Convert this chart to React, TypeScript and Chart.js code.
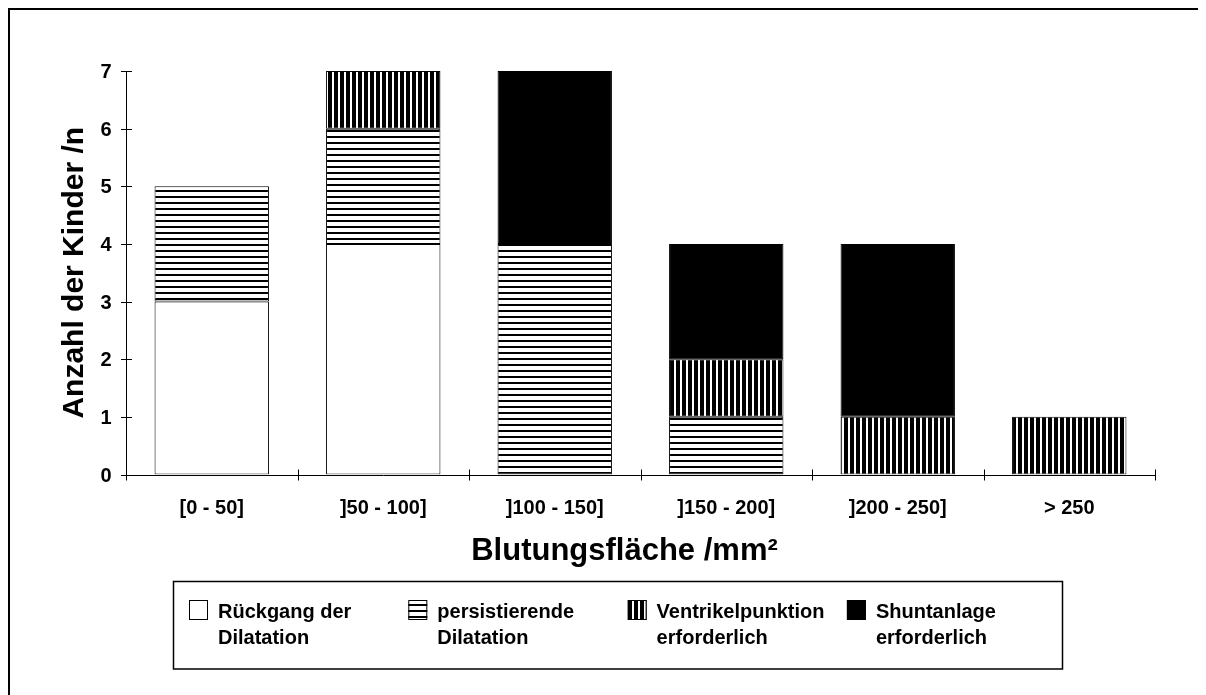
import React, { useEffect, useRef } from "react";
import { Chart, registerables } from "chart.js";

Chart.register(...registerables);

// ---- data ----
const categories = ["[0 - 50]", "]50 - 100]", "]100 - 150]", "]150 - 200]", "]200 - 250]", "> 250"];
const seriesNames = [
  ["Rückgang der", "Dilatation"],
  ["persistierende", "Dilatation"],
  ["Ventrikelpunktion", "erforderlich"],
  ["Shuntanlage", "erforderlich"],
];
const rueckgang = [3, 4, null, null, null, null];
const persistierend = [2, 2, 4, 1, null, null];
const ventrikel = [null, 1, null, 1, 1, 1];
const shunt = [null, null, 3, 2, 3, null];
const yTickValues = [0, 1, 2, 3, 4, 5, 6, 7];
const yTitle = "Anzahl der Kinder /n";
const xTitle = "Blutungsfläche /mm²";

const FONT = "'Liberation Sans', Arial, sans-serif";

function makePattern(kind: "h" | "v"): CanvasPattern | string {
  const c = document.createElement("canvas");
  c.width = 6;
  c.height = 6;
  const g = c.getContext("2d")!;
  if (kind === "h") {
    g.fillStyle = "#fff";
    g.fillRect(0, 0, 6, 6);
    g.fillStyle = "#000";
    g.fillRect(0, 0, 6, 2);
  } else {
    g.fillStyle = "#000";
    g.fillRect(0, 0, 6, 6);
    g.fillStyle = "#fff";
    g.fillRect(4, 0, 2, 6);
  }
  const p = g.createPattern(c, "repeat");
  return p || "#000";
}

export default function App() {
  const ref = useRef<HTMLCanvasElement | null>(null);

  useEffect(() => {
    const canvas = ref.current!;
    const hPat = makePattern("h");
    const vPat = makePattern("v");
    const fills: any[] = ["#ffffff", hPat, vPat, "#000000"];
    const values = [rueckgang, persistierend, ventrikel, shunt];

    const decor = {
      id: "decor",
      afterDraw(chart: any) {
        const ctx = chart.ctx as CanvasRenderingContext2D;
        const xs = chart.scales.x;
        const ys = chart.scales.y;
        const left = Math.round(xs.left) + 0.5;
        const right = xs.right;
        const top = ys.top;
        const bottom = Math.round(ys.bottom) + 0.5;
        ctx.save();
        ctx.strokeStyle = "#000";
        ctx.lineWidth = 1;
        // axes
        ctx.beginPath();
        ctx.moveTo(left, top);
        ctx.lineTo(left, bottom);
        ctx.moveTo(left, bottom);
        ctx.lineTo(right, bottom);
        ctx.stroke();
        // y ticks + labels
        ctx.fillStyle = "#000";
        ctx.font = `bold 20px ${FONT}`;
        ctx.textAlign = "right";
        ctx.textBaseline = "middle";
        for (const v of yTickValues) {
          const py = Math.round(ys.getPixelForValue(v)) + 0.5;
          ctx.beginPath();
          ctx.moveTo(left - 5.5, py);
          ctx.lineTo(left + 5.5, py);
          ctx.stroke();
          ctx.fillText(String(v), left - 15, py + 1);
        }
        // x ticks at category boundaries
        const n = categories.length;
        const w = (xs.right - xs.left) / n;
        for (let i = 0; i <= n; i++) {
          const px = Math.round(xs.left + i * w) + 0.5;
          ctx.beginPath();
          ctx.moveTo(px, bottom - 6);
          ctx.lineTo(px, bottom + 5);
          ctx.stroke();
        }
        ctx.textAlign = "center";
        categories.forEach((c, i) => {
          ctx.fillText(c, xs.getPixelForValue(i), bottom + 33);
        });
        // titles
        ctx.font = `bold 31px ${FONT}`;
        ctx.fillText(xTitle, (xs.left + xs.right) / 2 - 16, bottom + 76);
        ctx.font = `bold 30px ${FONT}`;
        ctx.save();
        ctx.translate(65, (ys.top + ys.bottom) / 2);
        ctx.rotate(-Math.PI / 2);
        ctx.fillText(yTitle, 0, 0);
        ctx.restore();

        // legend
        const bx = 163.5, by = 571.5, bw = 889, bh = 87.5;
        ctx.lineWidth = 1.5;
        ctx.strokeRect(bx, by, bw, bh);
        ctx.lineWidth = 1;
        ctx.font = `bold 20px ${FONT}`;
        ctx.textAlign = "left";
        ctx.textBaseline = "middle";
        seriesNames.forEach((lines, i) => {
          const sx = 179 + i * 219.3;
          const sy = 590;
          ctx.fillStyle = fills[i];
          ctx.fillRect(sx, sy, 19, 20);
          ctx.strokeStyle = "#000";
          ctx.strokeRect(sx + 0.5, sy + 0.5, 18, 19);
          ctx.fillStyle = "#000";
          lines.forEach((t, j) => ctx.fillText(t, sx + 29, 602 + j * 26));
        });
        ctx.restore();
      },
    };

    const chart = new Chart(canvas, {
      type: "bar",
      data: {
        labels: categories,
        datasets: values.map((d, i) => ({
          label: seriesNames[i].join(" "),
          data: d as any,
          backgroundColor: fills[i],
          borderColor: "#000",
          borderWidth: 1,
          borderSkipped: false,
          categoryPercentage: 1,
          barPercentage: 0.667,
        })),
      },
      options: {
        animation: false,
        responsive: false,
        maintainAspectRatio: false,
        layout: { padding: { left: 0, top: 61, right: 51, bottom: 220.5 } },
        plugins: { legend: { display: false }, tooltip: { enabled: false }, title: { display: false } },
        scales: {
          x: {
            stacked: true,
            grid: { display: false, drawTicks: false },
            border: { display: false },
            ticks: { display: false },
            afterFit: (s: any) => { s.height = 0; },
          },
          y: {
            stacked: true,
            min: 0,
            max: 7,
            grid: { display: false, drawTicks: false },
            border: { display: false },
            ticks: { display: false, stepSize: 1 },
            afterFit: (s: any) => { s.width = 116; },
          },
        },
      },
      plugins: [decor],
    });
    return () => chart.destroy();
  }, []);

  return (
    <div
      style={{
        width: 1196,
        height: 685,
        borderTop: "2px solid #000",
        borderLeft: "2px solid #000",
        background: "#fff",
        overflow: "hidden",
      }}
    >
      <canvas ref={ref} width={1196} height={685} style={{ display: "block" }} />
    </div>
  );
}
